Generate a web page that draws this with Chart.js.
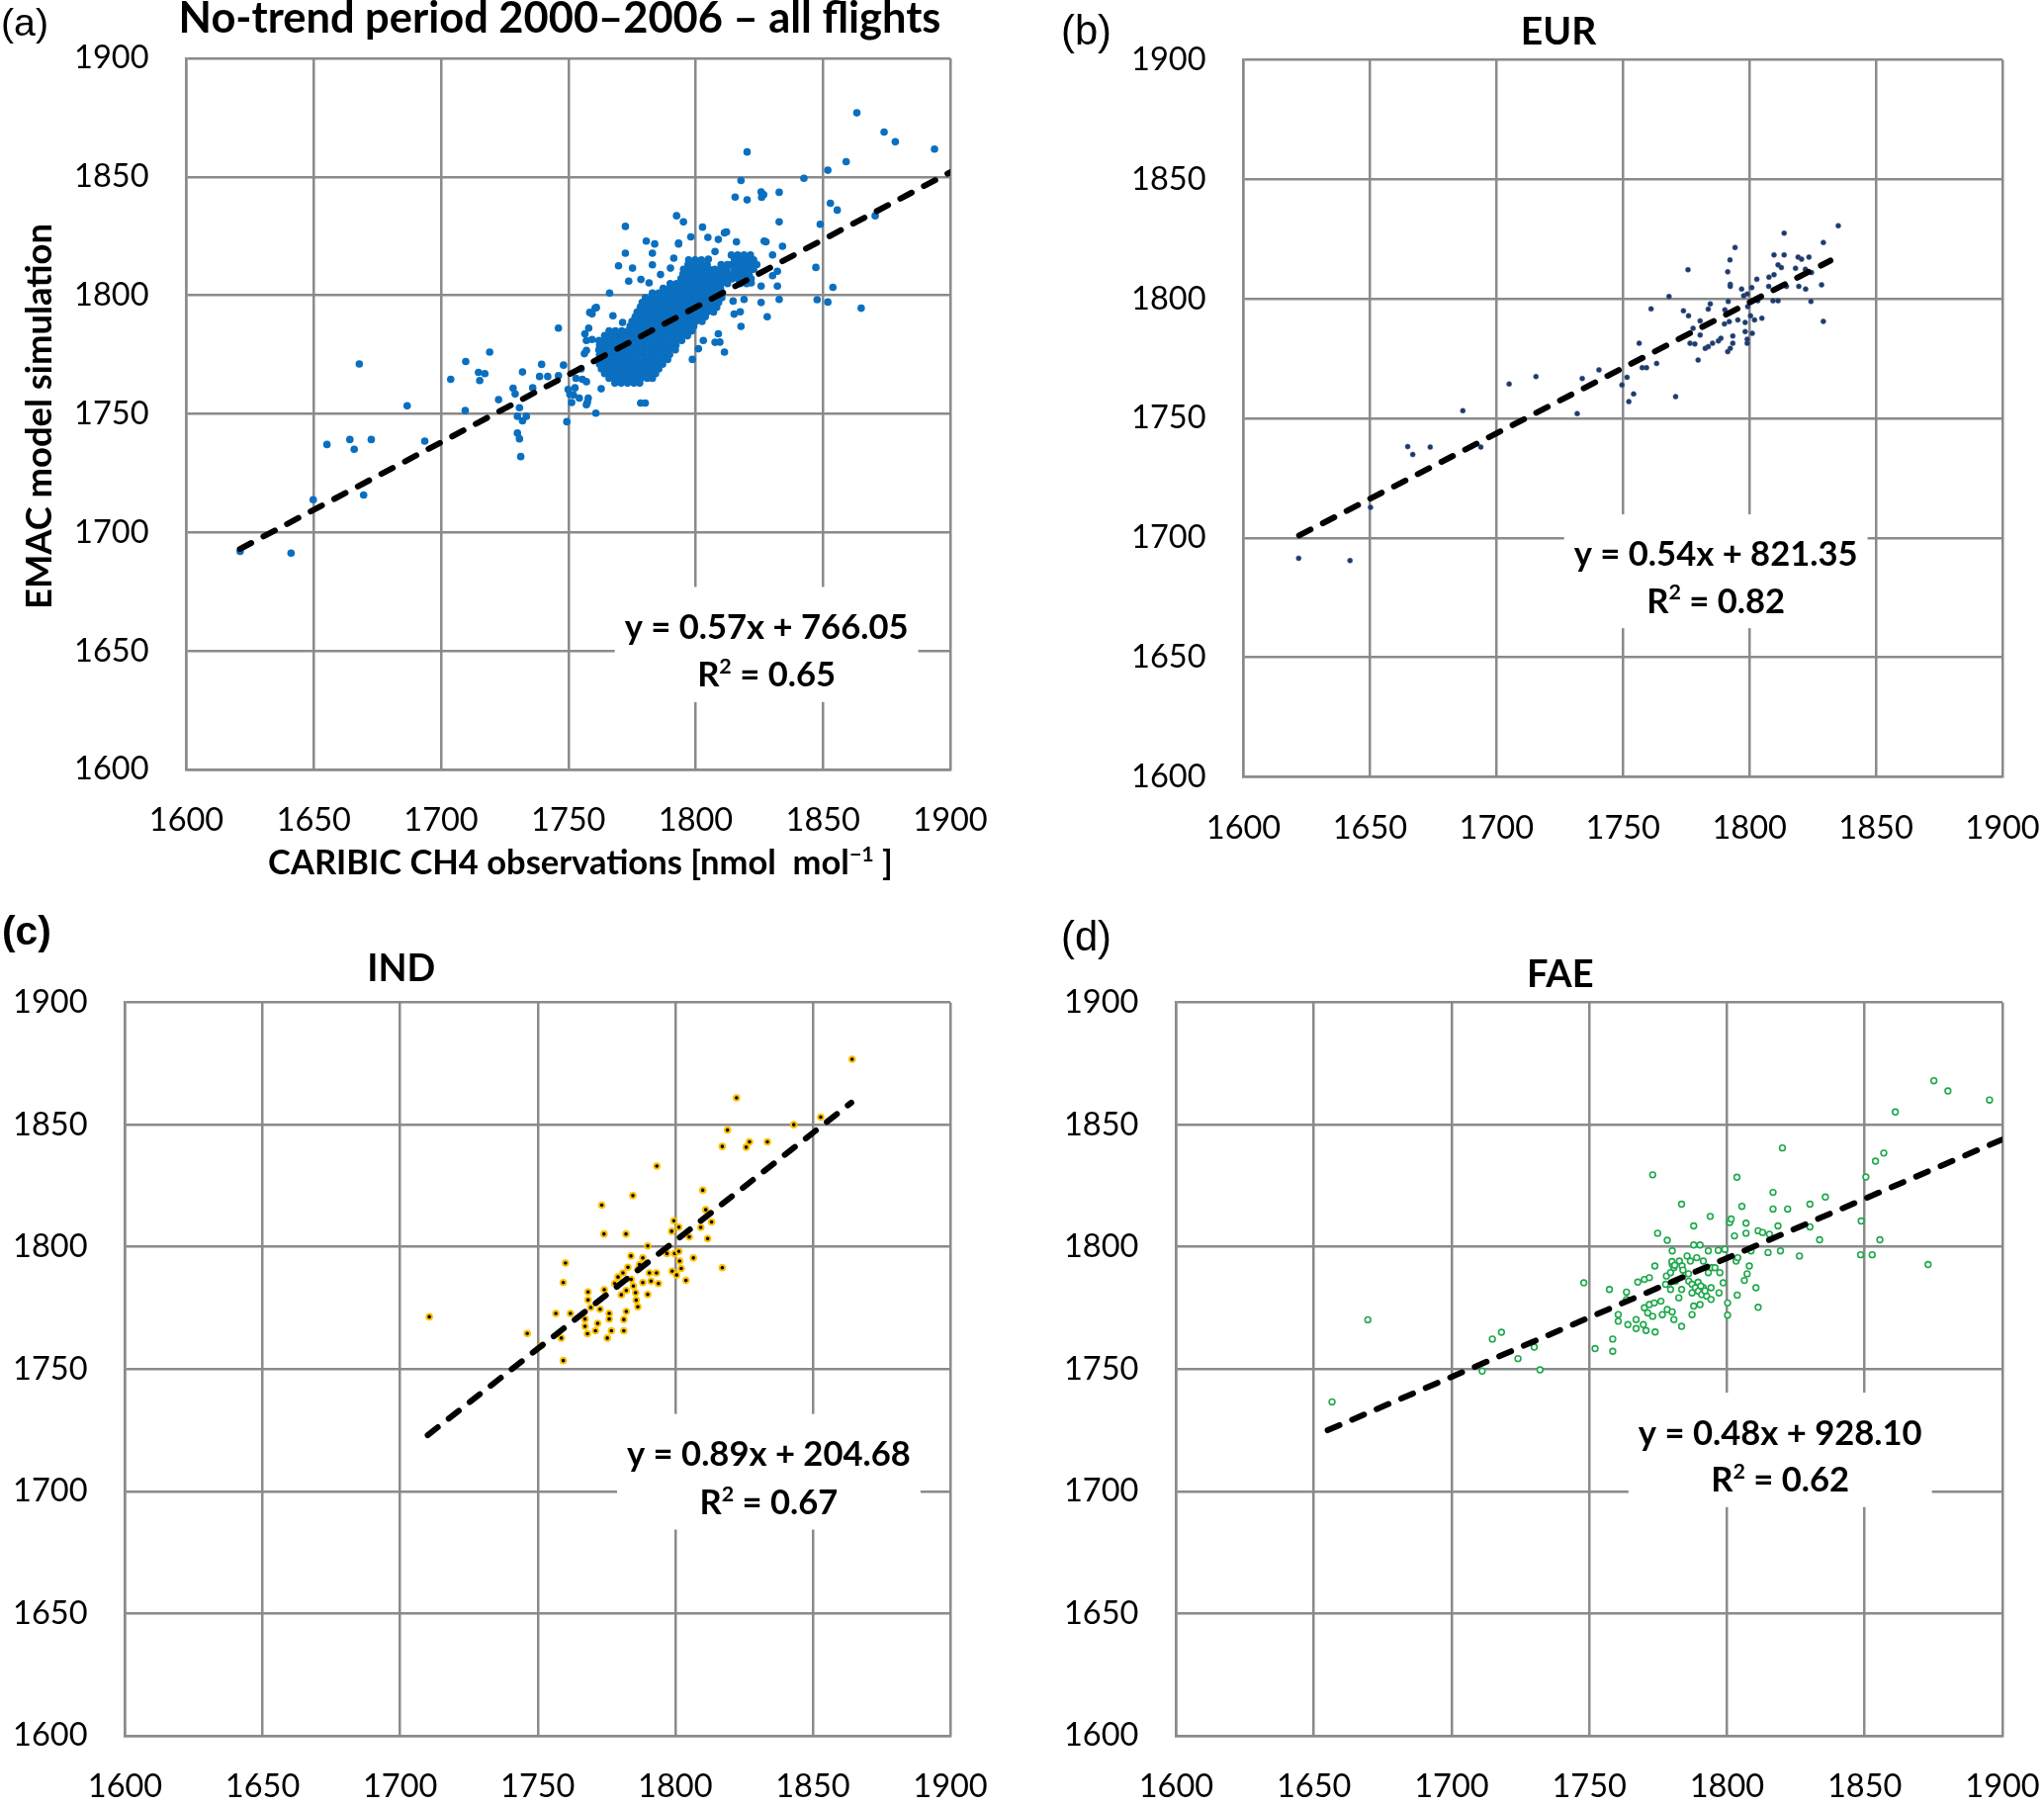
<!DOCTYPE html>
<html><head><meta charset="utf-8">
<script src="https://cdn.jsdelivr.net/npm/chart.js@4.4.0/dist/chart.umd.min.js"></script>
<style>
html,body{margin:0;padding:0;background:#fff;}
#wrap{position:relative;width:2067px;height:1826px;background:#fff;overflow:hidden;}
.pane{position:absolute;}
canvas{display:block;}
</style></head><body><div id="wrap"></div>
<script>
// ---------------- DATA ----------------
const tickValues = [1600, 1650, 1700, 1750, 1800, 1850, 1900];

// (a) all flights: [CARIBIC observation, EMAC simulation]
const allFlights = [
[1621.1,1692.0],[1641.1,1691.3],[1649.8,1713.8],[1655.2,1737.1],[1664.2,1739.2],[1665.9,1735.1],[1667.9,1771.1],[1672.6,1739.2],[1669.6,1715.8],[1686.7,1753.4],[1693.6,1738.5],[1703.8,1764.6],[1709.7,1772.1],[1709.5,1751.4],[1714.7,1767.5],[1715.2,1764.1],[1717.2,1767.0],[1719.1,1776.1],[1722.6,1756.0],[1728.3,1760.8],[1729.1,1758.4],[1730.8,1752.6],[1730.0,1749.0],[1730.0,1741.9],[1730.8,1739.5],[1731.3,1732.0],[1732.0,1747.1],[1733.5,1749.0],[1732.0,1767.7],[1736.0,1761.0],[1739.5,1770.9],[1738.7,1765.8],[1741.9,1765.8],[1746.1,1786.2],[1746.1,1766.1],[1748.1,1770.6],[1749.4,1746.7],[1749.9,1760.3],[1750.6,1758.2],[1751.3,1754.8],[1752.6,1761.0],[1754.3,1756.7],[1755.5,1764.6],[1756.3,1775.4],[1757.5,1755.0],[1759.3,1781.4],[1760.8,1750.3],[1758.0,1786.2],[1759.3,1792.2],[1760.5,1794.6],
[1863.3,1877.0],[1874.0,1868.9],[1878.4,1864.8],[1893.8,1861.7],[1859.1,1856.4],[1851.9,1852.8],[1842.5,1849.4],[1820.2,1860.5],[1817.8,1848.5],[1815.5,1841.5],[1820.2,1840.3],[1825.7,1843.7],[1826.7,1842.5],[1832.8,1843.5],[1855.6,1836.0],[1852.9,1838.9],[1848.9,1830.0],[1832.8,1831.0],[1834.1,1820.7],[1847.2,1811.8],[1853.9,1803.4],[1847.7,1798.2],[1851.9,1797.2],[1865.0,1794.6],[1870.5,1833.6],[1828.1,1791.0],[1832.1,1810.2],[1832.1,1803.9],[1826.9,1822.9],[1817.5,1793.1],[1817.8,1786.9],[1811.3,1776.1],[1807.6,1780.2],[1802.7,1828.8],[1792.5,1833.6],[1795.2,1831.0],[1793.3,1822.1],[1798.7,1773.0],[1780.6,1822.9],[1772.4,1829.1],[1772.4,1817.8],[1769.7,1812.5],[1766.2,1801.0],[1778.4,1754.6],[1780.2,1754.6],[1811.3,1826.4],[1804.8,1824.5],
[1798.1,1824.7],[1812.1,1826.8],[1808.9,1823.6],[1816.0,1822.6],[1825.9,1841.4],[1827.6,1822.6],[1830.2,1817.1],[1830.2,1808.3],[1832.8,1798.3],[1825.7,1797.0],[1819.0,1798.3],[1814.7,1797.6],[1815.1,1792.1],[1808.9,1783.8],[1809.5,1780.3],[1803.0,1781.0],[1801.1,1777.5],[1757.1,1763.6],[1762.9,1760.6],[1757.8,1756.7],[1757.1,1753.9],[1752.0,1758.0],[1753.0,1765.0],[1755.0,1769.0],[1775.2,1811.5],[1783.0,1817.8],[1783.9,1821.7],[1783.0,1812.9],[1786.2,1808.8],[1791.4,1815.7],[1793.3,1821.7],[1790.1,1811.5],[1773.7,1806.0],[1778.5,1806.7],[1781.7,1805.3],[1761.0,1794.9],[1758.4,1792.8],[1767.5,1791.4],[1771.3,1788.6],[1756.5,1783.8],[1757.1,1781.0],[1757.1,1776.8],[1805.0,1815.3],[1807.6,1818.5],[1811.4,1809.4],[1821.8,1805.3],[1825.7,1803.9],
// dense core of the cloud
[1814,1817],[1816.5,1817],[1819,1817],[1821.5,1817],
[1797.25,1815],[1799.75,1815],[1802.25,1815],[1815.25,1815],[1817.75,1815],[1820.25,1815],[1822.75,1815],
[1797,1813],[1799.5,1813],[1802,1813],[1804.5,1813],[1810,1813],[1812.5,1813],[1814,1813],[1816.5,1813],[1819,1813],[1821.5,1813],[1824,1813],
[1795.25,1811],[1797.75,1811],[1800.25,1811],[1802.75,1811],[1805.25,1811],[1807.5,1811],[1809.75,1811],[1812.25,1811],[1815.25,1811],[1817.75,1811],[1820.25,1811],[1822.75,1811],
[1795,1809],[1797.5,1809],[1800,1809],[1802.5,1809],[1805,1809],[1807.5,1809],[1810,1809],[1812.5,1809],[1814.5,1809],[1816,1809],[1818.5,1809],[1821,1809],
[1794.25,1807],[1796.75,1807],[1799.25,1807],[1801.75,1807],[1804.25,1807],[1806.75,1807],[1809.25,1807],[1811.75,1807],[1814.25,1807],[1816.75,1807],[1819.25,1807],[1821.75,1807],
[1790,1805],[1792.5,1805],[1795,1805],[1797.5,1805],[1800,1805],[1802.5,1805],[1805,1805],[1807.5,1805],[1810,1805],[1812.5,1805],[1817.5,1805],[1820,1805],
[1787.25,1803],[1789.75,1803],[1792.25,1803],[1794.75,1803],[1797.25,1803],[1799.75,1803],[1802.25,1803],[1804.75,1803],[1807.25,1803],[1809.75,1803],
[1783,1801],[1785.5,1801],[1788,1801],[1790.5,1801],[1793,1801],[1795.5,1801],[1798,1801],[1800.5,1801],[1803,1801],[1805.5,1801],[1808,1801],[1810.5,1801],
[1780.25,1799],[1782.75,1799],[1785.25,1799],[1787.75,1799],[1790.25,1799],[1792.75,1799],[1795.25,1799],[1797.75,1799],[1800.25,1799],[1802.75,1799],[1805.25,1799],[1807.75,1799],[1810.25,1799],
[1779,1797],[1781.5,1797],[1784,1797],[1786.5,1797],[1789,1797],[1791.5,1797],[1794,1797],[1796.5,1797],[1799,1797],[1801.5,1797],[1804,1797],[1806.5,1797],[1809,1797],
[1778.25,1795],[1780.75,1795],[1783.25,1795],[1785.75,1795],[1788.25,1795],[1790.75,1795],[1793.25,1795],[1795.75,1795],[1798.25,1795],[1800.75,1795],[1803.25,1795],[1805.75,1795],[1808.25,1795],
[1777,1793],[1779.5,1793],[1782,1793],[1784.5,1793],[1787,1793],[1789.5,1793],[1792,1793],[1794.5,1793],[1797,1793],[1799.5,1793],[1802,1793],[1804.5,1793],[1807,1793],
[1776.25,1791],[1778.75,1791],[1781.25,1791],[1783.75,1791],[1786.25,1791],[1788.75,1791],[1791.25,1791],[1793.75,1791],[1796.25,1791],[1798.75,1791],[1801.25,1791],[1803.75,1791],
[1775,1789],[1777.5,1789],[1780,1789],[1782.5,1789],[1785,1789],[1787.5,1789],[1790,1789],[1792.5,1789],[1795,1789],[1797.5,1789],[1800,1789],[1802.5,1789],
[1774.25,1787],[1776.75,1787],[1779.25,1787],[1781.75,1787],[1784.25,1787],[1786.75,1787],[1789.25,1787],[1791.75,1787],[1794.25,1787],[1796.75,1787],[1799.25,1787],
[1766,1785],[1768.5,1785],[1771,1785],[1773.5,1785],[1776,1785],[1778.5,1785],[1781,1785],[1783.5,1785],[1786,1785],[1788.5,1785],[1791,1785],[1793.5,1785],[1796,1785],[1798.5,1785],
[1764.25,1783],[1766.75,1783],[1769.25,1783],[1771.75,1783],[1774.25,1783],[1776.75,1783],[1779.25,1783],[1781.75,1783],[1784.25,1783],[1786.75,1783],[1789.25,1783],[1791.75,1783],[1794.25,1783],[1796.75,1783],
[1762,1781],[1764.5,1781],[1767,1781],[1769.5,1781],[1772,1781],[1774.5,1781],[1777,1781],[1779.5,1781],[1782,1781],[1784.5,1781],[1787,1781],[1789.5,1781],[1792,1781],[1794.5,1781],
[1762.25,1779],[1764.75,1779],[1767.25,1779],[1769.75,1779],[1772.25,1779],[1774.75,1779],[1777.25,1779],[1779.75,1779],[1782.25,1779],[1784.75,1779],[1787.25,1779],[1789.75,1779],[1792.25,1779],
[1762,1777],[1764.5,1777],[1767,1777],[1769.5,1777],[1772,1777],[1774.5,1777],[1777,1777],[1779.5,1777],[1782,1777],[1784.5,1777],[1787,1777],[1789.5,1777],[1792,1777],
[1762.25,1775],[1764.75,1775],[1767.25,1775],[1769.75,1775],[1772.25,1775],[1774.75,1775],[1777.25,1775],[1779.75,1775],[1782.25,1775],[1784.75,1775],[1787.25,1775],[1789.75,1775],
[1762,1773],[1764.5,1773],[1767,1773],[1769.5,1773],[1772,1773],[1774.5,1773],[1777,1773],[1779.5,1773],[1782,1773],[1784.5,1773],[1787,1773],[1789,1773],
[1762.25,1771],[1764.75,1771],[1767.25,1771],[1769.75,1771],[1772.25,1771],[1774.75,1771],[1777.25,1771],[1779.75,1771],[1782.25,1771],[1784.75,1771],[1787,1771],
[1763,1769],[1765.5,1769],[1768,1769],[1770.5,1769],[1773,1769],[1775.5,1769],[1778,1769],[1780.5,1769],[1783,1769],[1785.5,1769],
[1764.25,1767],[1766.75,1767],[1769.25,1767],[1771.75,1767],[1774.25,1767],[1776.75,1767],[1779.25,1767],[1781.75,1767],[1784.25,1767],
[1766,1765],[1768.5,1765],[1771,1765],[1773.5,1765],[1776,1765],[1778.5,1765],[1781,1765],[1783,1765],
[1768.25,1763],[1770.75,1763],[1773.25,1763],[1775.75,1763],[1778,1763]
];

// (b) EUR
const eur = [
[1621.8,1691.5],[1642.1,1690.5],[1650.2,1712.8],[1664.9,1738.2],[1666.9,1734.9],[1673.8,1738.0],[1686.7,1753.2],[1693.8,1738.0],[1705.0,1764.4],[1715.6,1767.5],[1731.9,1752.0],[1733.9,1766.7],[1740.5,1770.3],
[1749.6,1764.0],[1751.6,1767.2],[1754.2,1760.2],[1752.3,1757.0],[1756.4,1781.4],[1757.6,1771.2],[1759.3,1771.2],[1763.3,1773.0],[1761.1,1795.8],[1768.2,1801.0],[1770.8,1759.1],[1773.9,1795.0],[1775.9,1792.9],[1775.7,1812.2],[1776.5,1781.4],[1778.4,1781.1],[1777.7,1787.7],[1779.7,1774.4],[1780.5,1790.8],[1780.5,1784.9],[1782.5,1779.3],[1783.7,1780.0],[1783.7,1795.7],[1784.5,1797.9],[1785.4,1781.4],[1787.7,1782.4],[1788.7,1783.5],[1790.1,1789.5],[1790.3,1795.4],[1791.4,1777.9],[1791.4,1811.3],[1791.6,1798.9],[1792.0,1790.5],[1792.3,1816.3],[1792.4,1806.1],[1792.4,1805.2],[1792.4,1779.3],[1793.4,1784.5],[1793.4,1781.4],[1794.3,1821.5],[1795.4,1791.2],[1796.9,1804.1],[1797.7,1801.3],[1798.3,1790.1],[1798.3,1786.3],[1799.1,1802.0],[1799.1,1783.1],[1799.1,1781.4],[1799.3,1796.8],[1800.4,1792.9],[1800.9,1804.7],[1801.1,1785.6],[1802.0,1791.2],[1802.9,1808.2],[1803.3,1799.2],[1804.9,1791.9],[1807.6,1805.2],[1807.7,1809.1],[1809.3,1799.2],[1809.7,1810.1],[1809.7,1818.4],[1811.3,1799.2],[1811.3,1814.2],[1812.6,1813.1],[1813.7,1827.5],[1813.7,1818.4],[1814.6,1805.2],[1818.2,1812.8],[1819.2,1817.5],[1819.5,1805.2],[1820.6,1816.6],[1822.1,1812.4],[1822.2,1804.1],[1823.5,1817.5],[1824.3,1798.9],[1824.5,1811.0],[1828.5,1805.9],[1829.2,1823.6],[1829.2,1790.6],[1835.1,1830.6]
];

// (c) IND
const ind = [
[1710.6,1771.4],[1746.2,1764.6],[1751.4,1759.6],[1756.6,1772.8],[1758.6,1762.7],[1759.3,1753.5],[1759.3,1785.4],[1760.1,1793.4],[1761.9,1772.8],[1767.2,1770.5],[1767.2,1767.5],[1768.1,1764.5],[1768.3,1781.6],[1768.3,1778.3],[1769.3,1775.2],[1771.8,1768.7],[1771.0,1765.7],[1772.7,1774.5],[1773.3,1817.1],[1774.1,1805.3],[1774.2,1782.5],[1775.3,1762.7],[1776.0,1772.8],[1776.0,1770.5],[1776.8,1765.7],[1778.0,1785.0],[1779.2,1787.7],[1780.4,1780.4],[1781.0,1789.4],[1781.3,1770.3],[1781.3,1765.7],[1782.1,1805.3],[1782.2,1782.2],[1782.2,1773.6],[1782.8,1791.7],[1783.9,1796.3],[1784.0,1786.7],[1784.6,1821.0],[1784.8,1784.0],[1785.6,1781.3],[1785.8,1778.2],[1786.4,1775.5],[1786.4,1790.8],[1787.0,1792.8],[1788.2,1795.5],[1788.2,1785.4],[1790.0,1800.4],[1790.0,1780.6],[1790.6,1789.4],[1791.2,1786.0],[1793.2,1789.4],[1793.3,1833.1],[1793.9,1785.0],[1797.0,1797.3],[1798.7,1806.4],[1798.9,1790.1],[1799.5,1810.7],[1799.8,1797.3],[1800.5,1788.5],[1801.3,1808.1],[1801.3,1798.2],[1801.6,1794.2],[1802.2,1791.2],[1803.9,1786.3],[1805.1,1804.1],[1806.6,1795.5],[1809.3,1808.0],[1810.0,1823.2],[1811.1,1815.2],[1811.8,1803.4],[1813.2,1810.2],[1817.1,1791.5],[1817.1,1841.1],[1819.0,1847.8],[1822.3,1861.0],[1825.8,1840.8],[1827.0,1843.0],[1833.5,1843.0],[1843.1,1850.0],[1852.9,1853.1],[1864.3,1876.8]
];

// (d) FAE
const fae = [
[1656.6,1736.6],[1669.6,1770.2],[1711.1,1749.2],[1714.8,1762.3],[1718.1,1765.1],[1724.1,1754.3],[1730.0,1759.0],[1732.1,1749.7],
[1748.0,1785.3],[1752.1,1758.4],[1757.3,1782.6],[1758.5,1762.3],[1758.5,1757.3],[1760.5,1772.3],[1760.5,1769.6],[1763.5,1781.5],[1763.5,1778.5],[1764.0,1768.2],[1767.0,1770.3],[1767.0,1766.6],[1767.6,1785.6],[1769.6,1768.2],[1770.0,1786.7],[1770.0,1775.1],[1770.6,1765.8],[1771.2,1773.0],[1771.8,1787.4],[1771.8,1776.4],[1773.0,1771.6],[1773.0,1829.5],[1773.6,1777.1],[1773.8,1792.2],[1773.9,1765.2],[1774.8,1805.6],[1776.0,1777.8],[1776.5,1772.3],[1777.7,1784.7],[1778.0,1788.1],[1778.3,1802.7],[1778.3,1774.4],[1779.5,1789.5],[1779.5,1782.6],[1780.1,1798.4],[1780.1,1792.9],[1780.1,1773.4],[1780.7,1791.5],[1780.7,1770.3],[1781.3,1786.0],[1782.5,1779.2],[1782.7,1794.2],[1783.5,1817.5],[1783.5,1782.6],[1783.5,1767.5],[1783.7,1792.2],[1785.5,1796.3],[1786.1,1786.0],[1786.7,1794.2],[1787.3,1784.7],[1787.3,1781.2],[1787.3,1772.3],[1787.9,1808.6],[1787.9,1800.8],[1787.9,1775.8],[1788.5,1783.3],[1789.0,1795.6],[1789.6,1781.9],[1790.2,1800.8],[1790.2,1776.4],[1790.8,1780.5],[1791.4,1794.2],[1791.4,1783.3],[1792.6,1779.9],[1793.2,1798.4],[1793.2,1789.5],[1793.9,1812.5],[1794.2,1783.3],[1794.2,1778.5],[1794.4,1791.5],[1795.6,1791.5],[1796.8,1798.6],[1797.1,1781.2],[1797.4,1789.5],[1798.6,1785.3],[1799.2,1799.0],[1800.2,1777.1],[1800.2,1772.1],[1801.0,1810.0],[1801.5,1811.4],[1802.7,1804.5],[1803.3,1794.2],[1803.6,1828.5],[1803.7,1780.3],[1803.9,1795.6],[1805.4,1816.6],[1806.3,1786.3],[1806.9,1809.7],[1806.9,1805.6],[1807.3,1789.0],[1808.1,1792.2],[1808.7,1798.4],[1810.5,1783.3],[1811.3,1806.6],[1811.3,1775.3],[1812.9,1805.9],[1814.9,1797.7],[1815.4,1805.2],[1816.7,1822.3],[1816.7,1815.5],[1818.5,1808.6],[1819.4,1798.4],
[1789.5,1785.5],[1790.5,1784.0],[1792.0,1782.0],[1780.0,1794.0],[1781.0,1792.5],[1786.0,1789.0],[1784.0,1790.5],
[1820.1,1840.5],[1822.0,1815.5],[1826.3,1796.3],[1830.1,1817.5],[1830.1,1808.2],[1833.6,1802.9],[1835.7,1820.4],[1848.5,1796.8],[1848.7,1810.6],[1850.4,1828.6],[1852.7,1796.8],[1853.9,1835.1],[1855.5,1802.9],[1856.9,1838.4],[1861.1,1855.2],[1873.0,1792.8],[1875.1,1868.0],[1880.2,1863.8],[1895.3,1860.1]
];

// linear-fit trend line end points
const trendAll = [[1621, 1693], [1900, 1852]];
const trendEur = [[1622, 1701], [1832, 1816]];
const trendInd = [[1710, 1723], [1864, 1859]];
const trendFae = [[1655, 1725], [1900, 1844]];

const fitEquations = ["y = 0.57x + 766.05", "y = 0.54x + 821.35", "y = 0.89x + 204.68", "y = 0.48x + 928.10"];
const fitR2 = ["0.65", "0.82", "0.67", "0.62"];
const panelTitles = ["No-trend period 2000\u20132006 \u2013 all flights", "EUR", "IND", "FAE"];
const panelLetters = ["(a)", "(b)", "(c)", "(d)"];
const yAxisTitle = "EMAC model simulation";
const xAxisTitle = "CARIBIC CH4 observations [nmol  mol";

// ---------------- LAYOUT / STYLE ----------------
const mctx = document.createElement('canvas').getContext('2d');
function fitSize(text, weight, family, target) {
  mctx.font = `${weight} 100px ${family}`;
  return 100 * target / mctx.measureText(text).width;
}
const TICK_SIZE = fitSize("1900", "normal", "Lato", 75.5);
const EQ_SIZE = fitSize(fitEquations[0], "bold", "Lato", 287);
const GRID = '#8a8a8a';

const panels = [
  { box:[0,0,1033,910], yW:188.5, xH:132, padTop:59, padRight:72,
    points:allFlights, trend:trendAll, eq:{x:1827.8,y1:1660.3,y2:1640.1}, idx:0,
    style:{r:3.8, bg:'#0B6FC0', border:'#0B6FC0', bw:0},
    title:{x:566, y:33, w:771}, letter:{x:1, y:36, w:48, weight:'normal'}, axisTitles:true },
  { box:[1033,0,1034,910], yW:224.5, xH:124.5, padTop:60.5, padRight:42,
    points:eur, trend:trendEur, eq:{x:1786.7,y1:1693.3,y2:1673.8}, idx:1,
    style:{r:2.5, bg:'#1F3A68', border:'#35558a', bw:0.6},
    title:{x:1576, y:45, w:76.5}, letter:{x:1073, y:45, w:51, weight:'normal'} },
  { box:[0,910,1033,916], yW:126.5, xH:71, padTop:103.6, padRight:72,
    points:ind, trend:trendInd, eq:{x:1834,y1:1715.5,y2:1695.7}, idx:2,
    style:{r:2.8, bg:'#000000', border:'#FFC000', bw:2},
    title:{x:405.7, y:992, w:69}, letter:{x:2, y:955, w:50, weight:'bold'} },
  { box:[1033,910,1034,916], yW:156.4, xH:71, padTop:103.6, padRight:42,
    points:fae, trend:trendFae, eq:{x:1819.3,y1:1724.2,y2:1704.9}, idx:3,
    style:{r:2.9, bg:'#ffffff', border:'#1FA84C', bw:1.6},
    title:{x:1577.8, y:998, w:67.6}, letter:{x:1073, y:961, w:51, weight:'normal'} }
];

function drawSup(ctx, parts, cx, baseline, size) {
  let total = 0;
  const widths = parts.map(([t, sup]) => {
    ctx.font = `bold ${sup ? size * 0.62 : size}px Lato`;
    const w = ctx.measureText(t).width; total += w; return w;
  });
  let x = cx - total / 2;
  ctx.textAlign = 'left'; ctx.textBaseline = 'alphabetic';
  parts.forEach(([t, sup], i) => {
    ctx.font = `bold ${sup ? size * 0.62 : size}px Lato`;
    ctx.fillText(t, x, sup ? baseline - size * 0.38 : baseline);
    x += widths[i];
  });
}

const decor = {
  id: 'decor',
  beforeDatasetsDraw(chart) {
    const p = chart.options.plugins.decor.panel;
    const ctx = chart.ctx, xs = chart.scales.x, ys = chart.scales.y;
    const cx = xs.getPixelForValue(p.eq.x);
    const y1 = ys.getPixelForValue(p.eq.y1), y2 = ys.getPixelForValue(p.eq.y2);
    ctx.save();
    ctx.font = `bold ${EQ_SIZE}px Lato`;
    const w = ctx.measureText(fitEquations[p.idx]).width;
    ctx.fillStyle = '#fff';
    ctx.fillRect(cx - w / 2 - 10, y1 - 40, w + 20, (y2 + 28) - (y1 - 40));
    ctx.fillStyle = '#000';
    ctx.textAlign = 'center'; ctx.textBaseline = 'alphabetic';
    const capH = EQ_SIZE * 0.36;
    ctx.fillText(fitEquations[p.idx], cx, y1 + capH);
    drawSup(ctx, [['R', false], ['2', true], [' = ' + fitR2[p.idx], false]], cx, y2 + capH, EQ_SIZE);
    ctx.restore();
  },
  afterDraw(chart) {
    const p = chart.options.plugins.decor.panel;
    const ctx = chart.ctx, ox = p.box[0], oy = p.box[1];
    ctx.save();
    ctx.fillStyle = '#000';
    const ls = fitSize(panelLetters[p.idx], p.letter.weight, "'Liberation Sans'", p.letter.w);
    ctx.font = `${p.letter.weight} ${ls}px 'Liberation Sans'`;
    ctx.textAlign = 'left'; ctx.textBaseline = 'alphabetic';
    ctx.fillText(panelLetters[p.idx], p.letter.x - ox, p.letter.y - oy);
    const ts = fitSize(panelTitles[p.idx], 'bold', 'Lato', p.title.w);
    ctx.font = `bold ${ts}px Lato`;
    ctx.textAlign = 'center';
    ctx.fillText(panelTitles[p.idx], p.title.x - ox, p.title.y - oy);
    if (p.axisTitles) {
      const ys = fitSize(yAxisTitle, 'bold', 'Lato', 390);
      ctx.save();
      ctx.translate(52 - ox, 421 - oy);
      ctx.rotate(-Math.PI / 2);
      ctx.font = `bold ${ys}px Lato`;
      ctx.textAlign = 'center';
      ctx.fillText(yAxisTitle, 0, 0);
      ctx.restore();
      const xsz = fitSize(xAxisTitle + '-1 ]', 'bold', 'Lato', 640);
      drawSup(ctx, [[xAxisTitle, false], ['\u22121', true], [' ]', false]], 587 - ox, 884 - oy, xsz);
    }
    ctx.restore();
  }
};

const wrap = document.getElementById('wrap');
panels.forEach(p => {
  const div = document.createElement('div');
  div.className = 'pane';
  div.style.left = p.box[0] + 'px'; div.style.top = p.box[1] + 'px';
  div.style.width = p.box[2] + 'px'; div.style.height = p.box[3] + 'px';
  const cv = document.createElement('canvas');
  cv.width = p.box[2]; cv.height = p.box[3];
  cv.style.width = p.box[2] + 'px'; cv.style.height = p.box[3] + 'px';
  div.appendChild(cv); wrap.appendChild(div);
  const axisCommon = {
    type: 'linear', min: 1600, max: 1900,
    afterBuildTicks(s) { s.ticks = tickValues.map(v => ({ value: v })); },
    grid: { color: GRID, lineWidth: 2.5, drawTicks: false },
    border: { color: GRID, width: 2.5 },
  };
  const tickFont = { family: 'Lato', size: TICK_SIZE };
  new Chart(cv, {
    type: 'scatter',
    data: { datasets: [
      { type: 'line', data: p.trend.map(([x, y]) => ({ x, y })), borderColor: '#000', borderWidth: 6,
        borderDash: [13, 14], borderCapStyle: 'round', pointRadius: 0, fill: false, tension: 0 },
      { data: p.points.map(([x, y]) => ({ x, y })), pointRadius: p.style.r, pointBackgroundColor: p.style.bg,
        pointBorderColor: p.style.border, pointBorderWidth: p.style.bw, pointHoverRadius: p.style.r }
    ] },
    options: {
      responsive: false, animation: false, devicePixelRatio: 1,
      layout: { padding: { top: p.padTop, right: p.padRight, left: 0, bottom: 0 } },
      plugins: { legend: { display: false }, tooltip: { enabled: false }, decor: { panel: p } },
      scales: {
        x: Object.assign({}, axisCommon, {
          ticks: { font: tickFont, color: '#000', padding: 32, maxRotation: 0, autoSkip: false, callback: v => String(v) },
          afterFit(s) { s.height = p.xH; s.paddingLeft = 0; s.paddingRight = 0; }
        }),
        y: Object.assign({}, axisCommon, {
          ticks: { font: tickFont, color: '#000', padding: 38, autoSkip: false, callback: v => String(v) },
          afterFit(s) { s.width = p.yW; s.paddingTop = 0; s.paddingBottom = 0; }
        })
      }
    },
    plugins: [decor]
  });
});
</script></body></html>
